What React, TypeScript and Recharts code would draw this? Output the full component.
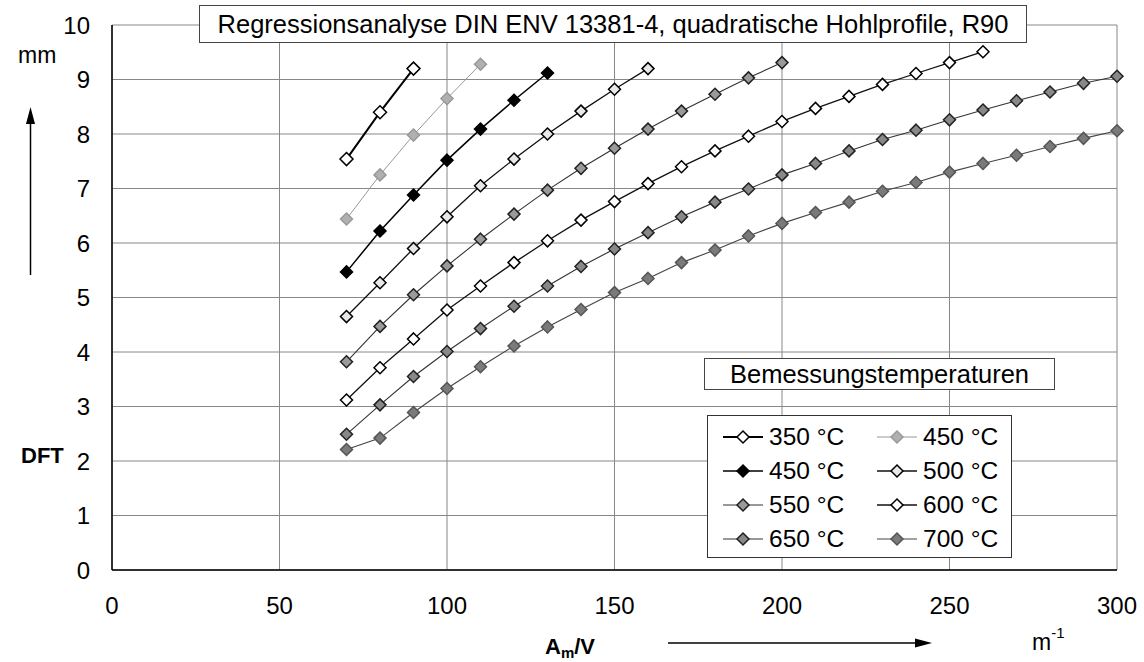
import { LineChart, Line, XAxis, YAxis, CartesianGrid } from 'recharts';

// A_m/V in m^-1
const AM_V = [70, 80, 90, 100, 110, 120, 130, 140, 150, 160, 170, 180, 190, 200, 210, 220, 230, 240, 250, 260, 270, 280, 290, 300];

// DFT in mm, per design temperature
const DFT_350 = [7.54, 8.4, 9.2];
const DFT_450_GRAY = [6.44, 7.25, 7.98, 8.65, 9.28];
const DFT_450 = [5.47, 6.22, 6.88, 7.52, 8.09, 8.62, 9.12];
const DFT_500 = [4.65, 5.27, 5.9, 6.48, 7.05, 7.54, 8.0, 8.42, 8.82, 9.2];
const DFT_550 = [3.82, 4.47, 5.05, 5.58, 6.07, 6.53, 6.97, 7.37, 7.74, 8.09, 8.42, 8.73, 9.03, 9.31];
const DFT_600 = [3.12, 3.71, 4.24, 4.77, 5.21, 5.64, 6.04, 6.42, 6.76, 7.09, 7.4, 7.69, 7.96, 8.23, 8.47, 8.69, 8.91, 9.11, 9.31, 9.51];
const DFT_650 = [2.49, 3.03, 3.55, 4.01, 4.43, 4.84, 5.21, 5.57, 5.89, 6.19, 6.48, 6.75, 6.99, 7.25, 7.46, 7.69, 7.9, 8.07, 8.26, 8.44, 8.61, 8.77, 8.93, 9.06];
const DFT_700 = [2.21, 2.42, 2.89, 3.33, 3.73, 4.11, 4.46, 4.78, 5.09, 5.35, 5.64, 5.87, 6.13, 6.36, 6.56, 6.75, 6.95, 7.11, 7.3, 7.46, 7.61, 7.77, 7.92, 8.06];

const X_TICKS = [0, 50, 100, 150, 200, 250, 300];
const Y_TICKS = [0, 1, 2, 3, 4, 5, 6, 7, 8, 9, 10];

const SERIES = [
  { key: 's350', name: '350 °C', values: DFT_350, line: '#000', width: 2, fill: '#fff', stroke: '#000', r: 6.5 },
  { key: 's450g', name: '450 °C', values: DFT_450_GRAY, line: '#999', width: 1, fill: '#b0b0b0', stroke: '#999', r: 6 },
  { key: 's450', name: '450 °C', values: DFT_450, line: '#000', width: 1.5, fill: '#000', stroke: '#000', r: 6 },
  { key: 's500', name: '500 °C', values: DFT_500, line: '#111', width: 1.3, fill: '#e8e8e8', stroke: '#000', r: 6 },
  { key: 's550', name: '550 °C', values: DFT_550, line: '#333', width: 1.1, fill: '#9a9a9a', stroke: '#222', r: 6 },
  { key: 's600', name: '600 °C', values: DFT_600, line: '#111', width: 1.3, fill: '#fff', stroke: '#000', r: 6 },
  { key: 's650', name: '650 °C', values: DFT_650, line: '#333', width: 1.1, fill: '#888', stroke: '#222', r: 6 },
  { key: 's700', name: '700 °C', values: DFT_700, line: '#444', width: 1.1, fill: '#7a7a7a', stroke: '#555', r: 6 },
];

const toPoints = (values: number[]) => values.map((v, i) => ({ x: AM_V[i], y: v }));

const Diamond = ({ cx, cy, r, fill, stroke }: any) => {
  if (cx == null || cy == null) return null;
  return (
    <polygon
      points={`${cx},${cy - r} ${cx + r},${cy} ${cx},${cy + r} ${cx - r},${cy}`}
      fill={fill}
      stroke={stroke}
      strokeWidth={1.5}
    />
  );
};

const LegendBox = () => (
  <div
    style={{
      position: 'absolute',
      left: 707,
      top: 415,
      width: 305,
      height: 143,
      boxSizing: 'border-box',
      border: '1px solid #333',
      background: '#fff',
      paddingTop: 4,
      display: 'grid',
      gridTemplateColumns: '154px 149px',
      gridAutoRows: '34px',
    }}
  >
    {SERIES.map((s) => (
      <div key={s.key} style={{ display: 'flex', alignItems: 'center' }}>
        <svg width={42} height={20} style={{ marginLeft: 15 }}>
          <line x1={0} y1={10} x2={40} y2={10} stroke={s.line} strokeWidth={s.width} />
          <Diamond cx={20} cy={10} r={6} fill={s.fill} stroke={s.stroke} />
        </svg>
        <span style={{ fontSize: 24.5, color: '#000', marginLeft: 4, whiteSpace: 'nowrap' }}>{s.name}</span>
      </div>
    ))}
  </div>
);

export default function App() {
  return (
    <div
      style={{
        position: 'absolute',
        left: 0,
        top: 0,
        width: 1144,
        height: 662,
        background: '#fff',
        fontFamily: '"Liberation Sans", Arial, sans-serif',
      }}
    >
      <LineChart width={1144} height={662} margin={{ top: 25, right: 27, bottom: 0, left: 0 }}>
        <CartesianGrid stroke="#888" strokeWidth={1} />
        <XAxis
          type="number"
          dataKey="x"
          domain={[0, 300]}
          ticks={X_TICKS}
          height={92}
          tickLine={false}
          tickSize={0}
          tickMargin={27}
          axisLine={{ stroke: '#000', strokeWidth: 1.5 }}
          tick={{ fontSize: 24, fill: '#000' }}
          allowDuplicatedCategory={false}
        />
        <YAxis
          type="number"
          dataKey="y"
          domain={[0, 10]}
          ticks={Y_TICKS}
          width={112}
          tickLine={false}
          tickSize={0}
          tickMargin={22}
          axisLine={{ stroke: '#000', strokeWidth: 1.5 }}
          tick={{ fontSize: 24, fill: '#000' }}
        />
        {SERIES.map((s) => (
          <Line
            key={s.key}
            data={toPoints(s.values)}
            dataKey="y"
            name={s.name}
            stroke={s.line}
            strokeWidth={s.width}
            isAnimationActive={false}
            dot={(p: any) => <Diamond key={`${s.key}-${p.index}`} cx={p.cx} cy={p.cy} r={s.r} fill={s.fill} stroke={s.stroke} />}
            activeDot={false}
          />
        ))}
      </LineChart>

      {/* title box */}
      <div
        style={{
          position: 'absolute', left: 199, top: 5, width: 828, height: 38, boxSizing: 'border-box',
          border: '1px solid #444', background: '#fff', fontSize: 25.5, lineHeight: '36px', textAlign: 'center',
          whiteSpace: 'nowrap',
        }}
      >
        Regressionsanalyse DIN ENV 13381-4, quadratische Hohlprofile, R90
      </div>

      {/* legend header box */}
      <div
        style={{
          position: 'absolute', left: 704, top: 358, width: 351, height: 32, boxSizing: 'border-box',
          border: '1px solid #444', background: '#fff', fontSize: 25.5, lineHeight: '30px', textAlign: 'center',
          whiteSpace: 'nowrap',
        }}
      >
        Bemessungstemperaturen
      </div>

      <LegendBox />

      {/* axis titles and arrows */}
      <svg width={1144} height={662} style={{ position: 'absolute', left: 0, top: 0, pointerEvents: 'none' }}>
        <text x={18} y={63} fontSize={23} fill="#000">mm</text>
        <line x1={30.5} y1={275} x2={30.5} y2={120} stroke="#000" strokeWidth={1.5} />
        <polygon points="30.5,107 26,124 35,124" fill="#000" />
        <text x={21} y={463} fontSize={22} fontWeight="bold" fill="#000">DFT</text>

        <text x={545} y={654} fontSize={22} fontWeight="bold" fill="#000">
          A<tspan fontSize={15} dy={4}>m</tspan><tspan dy={-4}>/V</tspan>
        </text>
        <line x1={668} y1={643} x2={918} y2={643} stroke="#000" strokeWidth={1.5} />
        <polygon points="932,643 915,638.5 915,647.5" fill="#000" />
        <text x={1032} y={650} fontSize={23} fill="#000">
          m<tspan fontSize={15} dy={-12}>-1</tspan>
        </text>
      </svg>
    </div>
  );
}
